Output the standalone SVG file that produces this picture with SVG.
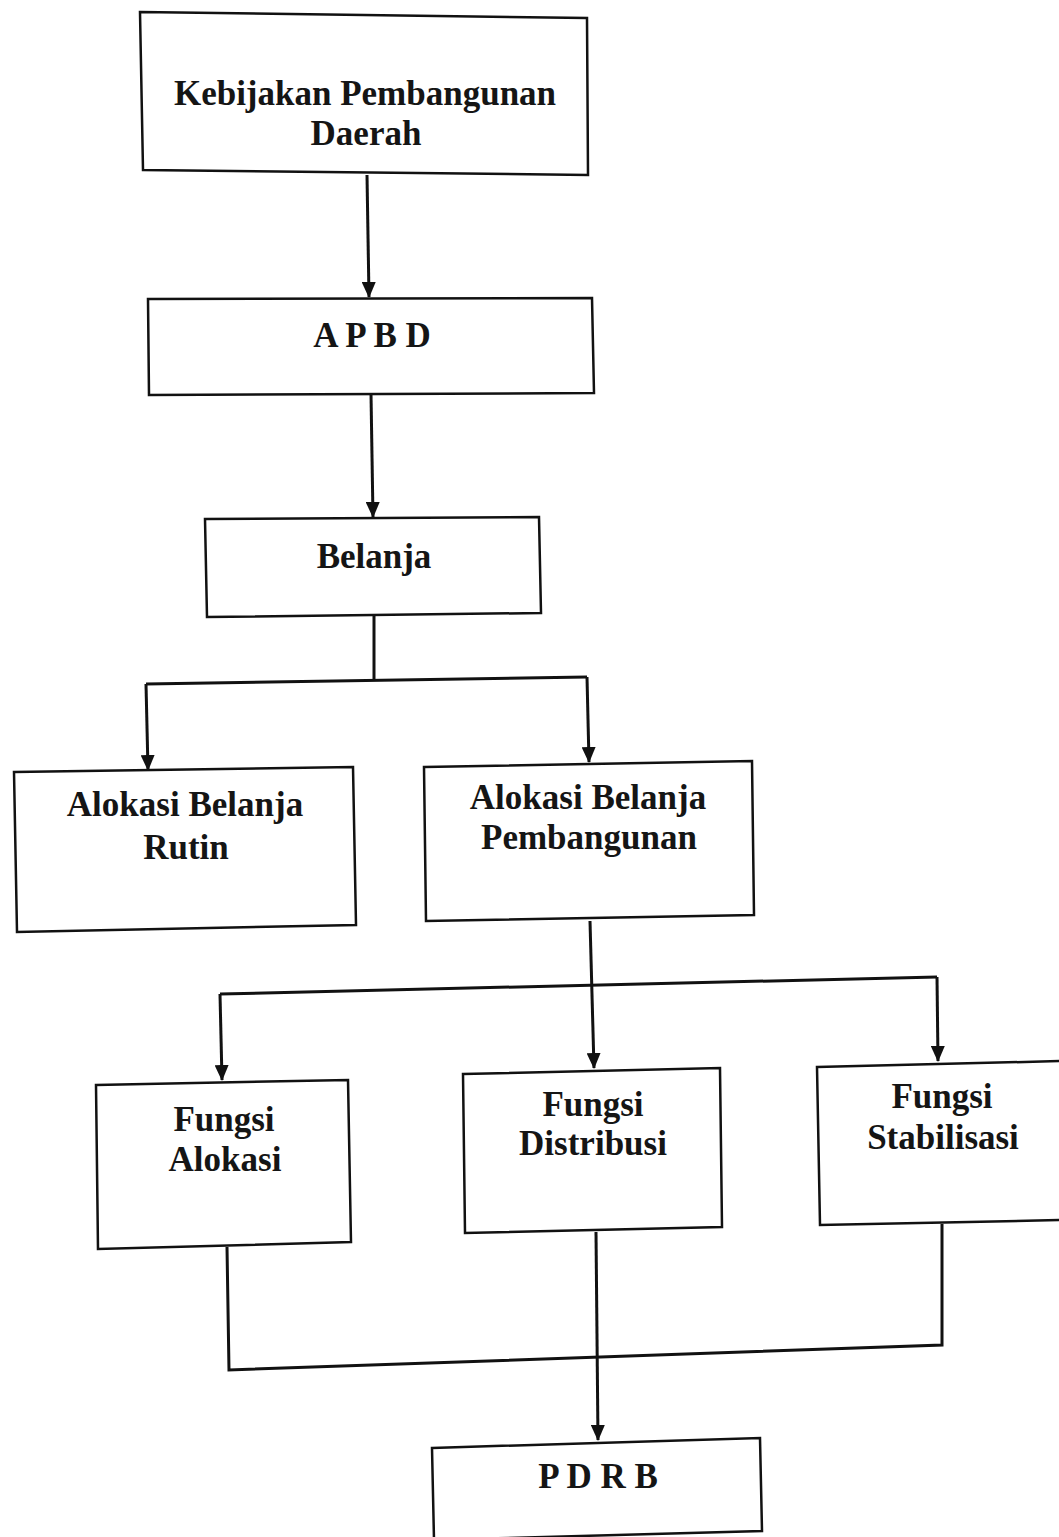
<svg xmlns="http://www.w3.org/2000/svg" width="1059" height="1537" viewBox="0 0 1059 1537">
<defs>
<style>
.box{fill:#fff;stroke:#111;stroke-width:2.5}
.t{font-family:"Liberation Serif","Times New Roman",serif;font-weight:bold;font-size:35px;fill:#151515;text-anchor:middle}
.ln{fill:none;stroke:#111;stroke-width:3}
</style>
<marker id="ah" viewBox="0 0 16 14" refX="15" refY="7" markerWidth="16" markerHeight="14" markerUnits="userSpaceOnUse" orient="auto">
<path d="M0,0 L16,7 L0,14 Z" fill="#111"/>
</marker>
</defs>
<rect width="1059" height="1537" fill="#fff"/>
<g id="connectors">
<path class="ln" d="M367,175 L369,297" marker-end="url(#ah)"/>
<path class="ln" d="M371,394 L373,517" marker-end="url(#ah)"/>
<path class="ln" d="M374,616 L374,680"/>
<path class="ln" d="M146,684 L587,677"/>
<path class="ln" d="M146,684 L148,770" marker-end="url(#ah)"/>
<path class="ln" d="M587,677 L589,762" marker-end="url(#ah)"/>
<path class="ln" d="M590,921 L594,1068" marker-end="url(#ah)"/>
<path class="ln" d="M220,994 L937,977"/>
<path class="ln" d="M220,994 L222,1080" marker-end="url(#ah)"/>
<path class="ln" d="M937,977 L938,1061" marker-end="url(#ah)"/>
<path class="ln" d="M227,1247 L229,1370 L942,1345 L942,1224"/>
<path class="ln" d="M596,1232 L598,1440" marker-end="url(#ah)"/>
</g>
<g id="n1">
<polygon class="box" points="140,12 587,18 588,175 143,170"/>
<text class="t" x="365" y="105">Kebijakan Pembangunan</text>
<text class="t" x="366" y="145">Daerah</text>
</g>
<g id="n2">
<polygon class="box" points="148,299 592,298 594,393 149,395"/>
<text class="t" x="372" y="347">A P B D</text>
</g>
<g id="n3">
<polygon class="box" points="205,519 539,517 541,613 207,617"/>
<text class="t" x="374" y="568">Belanja</text>
</g>
<g id="n4">
<polygon class="box" points="14,772 353,767 356,925 17,932"/>
<text class="t" x="185" y="816">Alokasi Belanja</text>
<text class="t" x="186" y="859">Rutin</text>
</g>
<g id="n5">
<polygon class="box" points="424,767 752,761 754,915 426,921"/>
<text class="t" x="588" y="809">Alokasi Belanja</text>
<text class="t" x="589" y="849">Pembangunan</text>
</g>
<g id="n6">
<polygon class="box" points="96,1085 348,1080 351,1242 98,1249"/>
<text class="t" x="224" y="1131">Fungsi</text>
<text class="t" x="225" y="1171">Alokasi</text>
</g>
<g id="n7">
<polygon class="box" points="463,1074 720,1068 722,1227 465,1233"/>
<text class="t" x="593" y="1116">Fungsi</text>
<text class="t" x="593" y="1155">Distribusi</text>
</g>
<g id="n8">
<polygon class="box" points="817,1067 1062,1061 1062,1220 820,1225"/>
<text class="t" x="942" y="1108">Fungsi</text>
<text class="t" x="943" y="1149">Stabilisasi</text>
</g>
<g id="n9">
<polygon class="box" points="432,1448 760,1438 762,1531 434,1540"/>
<text class="t" x="598" y="1488">P D R B</text>
</g>
</svg>
